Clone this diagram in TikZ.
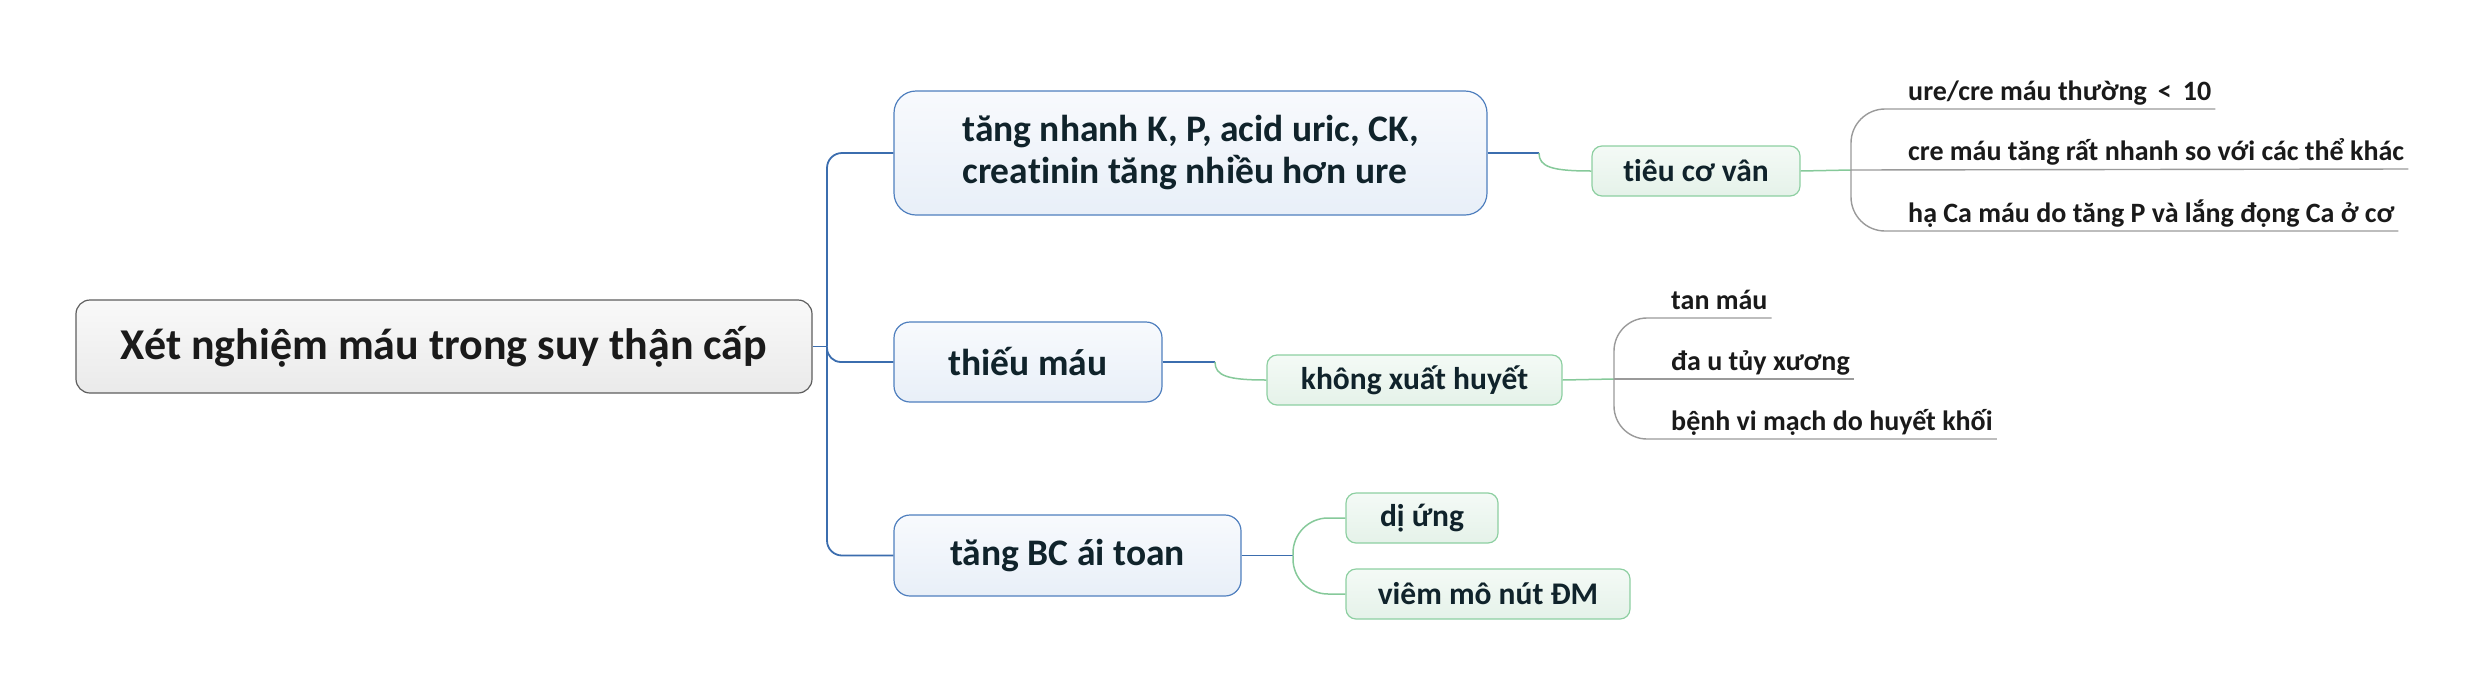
\documentclass[tikz,border=0pt]{standalone}
\usepackage{fontspec}
\setmainfont{Carlito}[Ligatures=NoCommon]
\definecolor{rootborder}{HTML}{5E5E5E}
\definecolor{roottop}{HTML}{F9F9F9}
\definecolor{rootbot}{HTML}{EAEAEA}
\definecolor{blueborder}{HTML}{4F7FBE}
\definecolor{bluetop}{HTML}{F8FAFD}
\definecolor{bluebot}{HTML}{E8EFF8}
\definecolor{blueline}{HTML}{3B6DAE}
\definecolor{greenborder}{HTML}{8DCFA1}
\definecolor{greentop}{HTML}{F4FAF6}
\definecolor{greenbot}{HTML}{E5F2E9}
\definecolor{greenline}{HTML}{86C99A}
\definecolor{leafline}{HTML}{9A9A9A}
\definecolor{darktext}{HTML}{10232B}
\definecolor{leaftext}{HTML}{1A1A1A}
\begin{document}
\begin{tikzpicture}[x=1pt,y=-1pt,
  rootbox/.style={draw=rootborder, line width=1.2pt, rounded corners=14pt,
    top color=roottop, bottom color=rootbot, inner sep=0pt,
    font=\fontsize{44}{50}\selectfont\bfseries, text=leaftext},
  lonebox/.style={draw=blueborder, line width=1.2pt, inner sep=0pt,
    top color=bluetop, bottom color=bluebot,
    font=\fontsize{37.5}{42}\selectfont\bfseries, text=darktext},
  ltwobox/.style={draw=greenborder, line width=1.2pt, inner sep=0pt, rounded corners=10pt,
    top color=greentop, bottom color=greenbot, minimum height=50pt,
    font=\fontsize{31.5}{36}\selectfont\bfseries, text=darktext},
  leaf/.style={anchor=south west, inner xsep=4pt, inner ysep=0pt,
    text height=20pt, text depth=8pt,
    font=\fontsize{28}{34}\selectfont\bfseries, text=leaftext},
  bl/.style={draw=blueline, line width=1.8pt},
  gl/.style={draw=greenline, line width=1.5pt},
  ll/.style={draw=leafline, line width=1.4pt}
]
\useasboundingbox (0,0) rectangle (2477,694);

% root
\node[rootbox, minimum width=736pt, minimum height=93pt] (root) at (444,346.5)
  {Xét nghiệm máu trong suy thận cấp};

% level 1
\node[lonebox, rounded corners=22pt, minimum width=593pt, minimum height=124pt, align=left] (A) at (1190.5,153)
  {tăng nhanh K, P, acid uric, CK,\\creatinin tăng nhiều hơn ure};
\node[lonebox, rounded corners=16pt, minimum width=268pt, minimum height=80pt] (B) at (1028,362) {thiếu máu};
\node[lonebox, rounded corners=16pt, minimum width=347pt, minimum height=81pt] (C) at (1067.5,555.5) {tăng BC ái toan};

% level 2
\node[ltwobox, minimum width=208pt] (D) at (1696,171) {tiêu cơ vân};
\node[ltwobox, minimum width=295pt] (E) at (1414.5,380) {không xuất huyết};
\node[ltwobox, minimum width=152pt] (F) at (1422,518) {dị ứng};
\node[ltwobox, minimum width=284pt] (G) at (1488,594) {viêm mô nút ĐM};

% leaves of D
\node[leaf] (D1) at (1904,109) {ure/cre máu thường \,<\, 10};
\node[leaf] (D2) at (1904,169) {cre máu tăng rất nhanh so với các thể khác};
\node[leaf] (D3) at (1904,231) {hạ Ca máu do tăng P và lắng đọng Ca ở cơ};

% leaves of E
\node[leaf] (E1) at (1667,318) {tan máu};
\node[leaf] (E2) at (1667,379) {đa u tủy xương};
\node[leaf] (E3) at (1667,439) {bệnh vi mạch do huyết khối};

% junction coordinates
\coordinate (t) at (827,346.5);
\coordinate (ad) at (1539,153);
\coordinate (be) at (1215,362);
\coordinate (cj) at (1293,555.5);
\coordinate (dj) at (1851,170);
\coordinate (ej) at (1614,379);

% trunk
\draw[bl] (root.east) -- (t);
\draw[bl, rounded corners=15pt] (t) |- (A.west);
\draw[bl, rounded corners=15pt] (t) |- (C.west);
\draw[bl, rounded corners=14pt] (t) |- (B.west);

% level 1 -> level 2
\draw[bl] (A.east) -- (ad);
\draw[gl] (ad) .. controls (1539,167) and (1552,171) .. (D.west);
\draw[bl] (B.east) -- (be);
\draw[gl] (be) .. controls (1215,376) and (1228,380) .. (E.west);
\draw[bl] (C.east) -- (cj);
\draw[gl, rounded corners=35pt] (F.west) -| (cj);
\draw[gl, rounded corners=35pt] (G.west) -| (cj);

% D leaves
\draw[gl] (D.east) -- (dj);
\draw[ll, rounded corners=34pt] (D1.south east) -| (dj);
\draw[ll, rounded corners=34pt] (D3.south east) -| (dj);
\draw[ll] (dj) -- (D2.south east);

% E leaves
\draw[gl] (E.east) -- (ej);
\draw[ll, rounded corners=33pt] (E1.south east) -| (ej);
\draw[ll, rounded corners=33pt] (E3.south east) -| (ej);
\draw[ll] (ej) -- (E2.south east);
\end{tikzpicture}
\end{document}
